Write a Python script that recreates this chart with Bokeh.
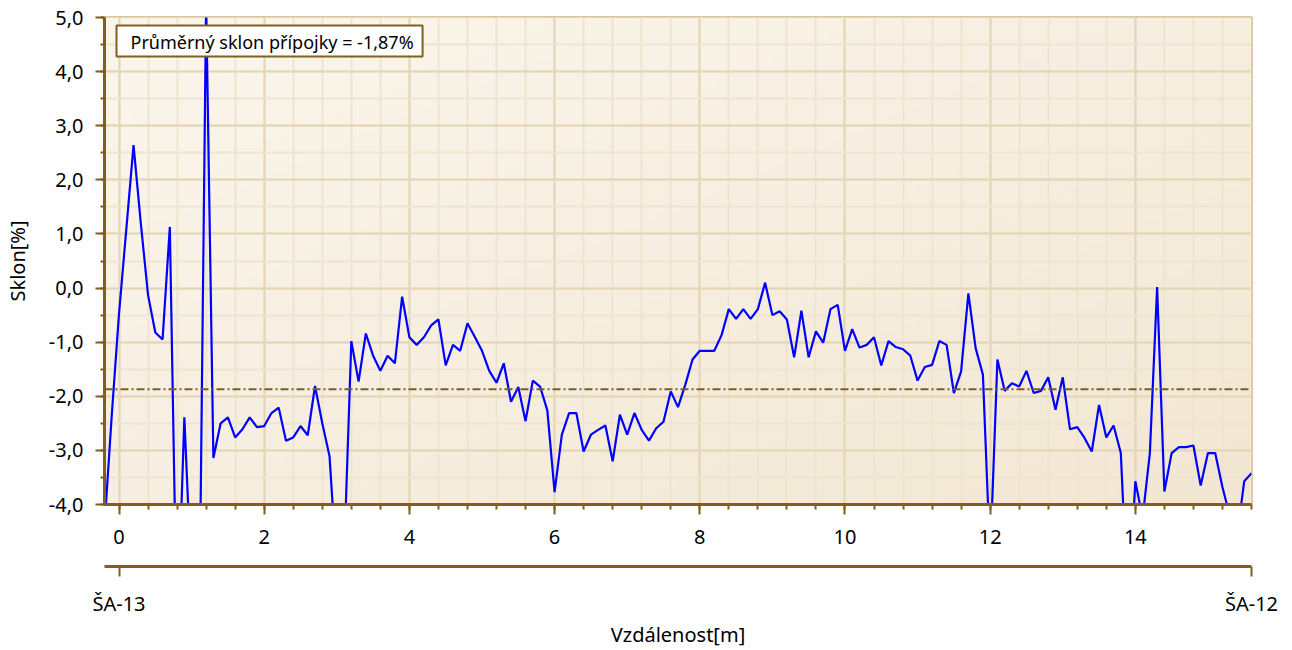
import numpy as np
from bokeh.plotting import figure
from bokeh.models import (Range1d, LinearAxis, SingleIntervalTicker, FixedTicker,
                          Span, Label)
from bokeh.embed import file_html
from bokeh.resources import INLINE

# ---------------- data ----------------
distance_m = [
    -0.2, -0.1,
    0.0, 0.1, 0.2, 0.3, 0.4, 0.5, 0.6, 0.7, 0.8, 0.9,
    1.0, 1.1, 1.2, 1.3, 1.4, 1.5, 1.6, 1.7, 1.8, 1.9,
    2.0, 2.1, 2.2, 2.3, 2.4, 2.5, 2.6, 2.7, 2.8, 2.9,
    3.0, 3.1, 3.2, 3.3, 3.4, 3.5, 3.6, 3.7, 3.8, 3.9,
    4.0, 4.1, 4.2, 4.3, 4.4, 4.5, 4.6, 4.7, 4.8, 4.9,
    5.0, 5.1, 5.2, 5.3, 5.4, 5.5, 5.6, 5.7, 5.8, 5.9,
    6.0, 6.1, 6.2, 6.3, 6.4, 6.5, 6.6, 6.7, 6.8, 6.9,
    7.0, 7.1, 7.2, 7.3, 7.4, 7.5, 7.6, 7.7, 7.8, 7.9,
    8.0, 8.1, 8.2, 8.3, 8.4, 8.5, 8.6, 8.7, 8.8, 8.9,
    9.0, 9.1, 9.2, 9.3, 9.4, 9.5, 9.6, 9.7, 9.8, 9.9,
    10.0, 10.1, 10.2, 10.3, 10.4, 10.5, 10.6, 10.7, 10.8, 10.9,
    11.0, 11.1, 11.2, 11.3, 11.4, 11.5, 11.6, 11.7, 11.8, 11.9,
    12.0, 12.1, 12.2, 12.3, 12.4, 12.5, 12.6, 12.7, 12.8, 12.9,
    13.0, 13.1, 13.2, 13.3, 13.4, 13.5, 13.6, 13.7, 13.8, 13.9,
    14.0, 14.1, 14.2, 14.3, 14.4, 14.5, 14.6, 14.7, 14.8, 14.9,
    15.0, 15.1, 15.2, 15.3, 15.4, 15.5, 15.6,
]

slope_pct = [
    -4.4, -2.35,
    -0.47, 1.08, 2.64, 1.2, -0.13, -0.82, -0.95, 1.13, -6.5, -2.39,
    -5.5, -7.0, 5.3, -3.14, -2.50, -2.39, -2.76, -2.61, -2.39, -2.57,
    -2.55, -2.31, -2.21, -2.82, -2.76, -2.55, -2.72, -1.81, -2.50, -3.11,
    -5.2, -5.0, -0.98, -1.73, -0.84, -1.25, -1.53, -1.25, -1.39, -0.16,
    -0.91, -1.05, -0.91, -0.69, -0.58, -1.43, -1.05, -1.16, -0.65, -0.90,
    -1.16, -1.53, -1.75, -1.39, -2.10, -1.83, -2.46, -1.71, -1.82, -2.26,
    -3.77, -2.71, -2.31, -2.31, -3.02, -2.71, -2.62, -2.54, -3.20, -2.34,
    -2.71, -2.31, -2.62, -2.82, -2.59, -2.47, -1.91, -2.20, -1.79, -1.32,
    -1.16, -1.16, -1.16, -0.87, -0.39, -0.57, -0.39, -0.57, -0.39, 0.10,
    -0.50, -0.43, -0.58, -1.28, -0.42, -1.28, -0.80, -1.01, -0.39, -0.31,
    -1.16, -0.76, -1.10, -1.05, -0.91, -1.43, -0.98, -1.09, -1.13, -1.25,
    -1.71, -1.46, -1.42, -0.98, -1.05, -1.94, -1.54, -0.10, -1.11, -1.60,
    -5.0, -1.32, -1.90, -1.76, -1.82, -1.53, -1.94, -1.90, -1.65, -2.25,
    -1.65, -2.61, -2.57, -2.77, -3.02, -2.16, -2.76, -2.54, -3.05, -6.0,
    -3.57, -4.25, -3.05, 0.02, -3.76, -3.05, -2.94, -2.94, -2.91, -3.65,
    -3.05, -3.05, -3.68, -4.2, -4.6, -3.57, -3.42,
]

average_slope = -1.87
legend_text = "Průměrný sklon přípojky = -1,87%"

y_tick_values = [-4, -3, -2, -1, 0, 1, 2, 3, 4, 5]
y_tick_labels = ["-4,0", "-3,0", "-2,0", "-1,0", "0,0", "1,0", "2,0", "3,0", "4,0", "5,0"]

manhole_positions = [0.0, 15.6]
manhole_labels = ["ŠA-13", "ŠA-12"]

x_start, x_end = -0.2, 15.6
y_start, y_end = -4.0, 5.0

# ---------------- styles ----------------
FONT = "Noto Sans"
AXIS_COLOR = "#7f5f1f"
BORDER_COLOR = "#d9c9a2"

p = figure(width=1292, height=650,
           x_range=Range1d(x_start, x_end), y_range=Range1d(y_start, y_end),
           output_backend="svg", toolbar_location=None,
           min_border_left=104, min_border_right=41, min_border_top=17,
           min_border_bottom=145)

p.background_fill_color = "#f6eee0"
p.border_fill_color = "white"
p.outline_line_color = BORDER_COLOR
p.outline_line_width = 3

# diagonal gradient background of the plot area (top-left light -> bottom-right darker)
ny, nx = 60, 120
gy, gx = np.mgrid[0:ny, 0:nx]
t = 0.5 * gx / (nx - 1) + 0.5 * (1 - gy / (ny - 1))
c0 = np.array([251, 246, 237])
c1 = np.array([242, 231, 211])
img = np.empty((ny, nx), dtype=np.uint32)
view = img.view(dtype=np.uint8).reshape((ny, nx, 4))
for k in range(3):
    view[:, :, k] = (c0[k] + (c1[k] - c0[k]) * t).astype(np.uint8)
view[:, :, 3] = 255
p.image_rgba(image=[img], x=x_start, y=y_start, dw=x_end - x_start,
             dh=y_end - y_start, level="image")

# grids
for g in (p.xgrid, p.ygrid):
    g.grid_line_color = "#e3d5b6"
    g.grid_line_width = 2
    g.minor_grid_line_color = "#eee4cf"
    g.minor_grid_line_width = 2

# x axis (primary)
xa = p.xaxis[0]
xa.ticker = SingleIntervalTicker(interval=2, num_minor_ticks=5)
xa.axis_line_color = AXIS_COLOR
xa.axis_line_width = 3
xa.major_tick_line_color = AXIS_COLOR
xa.major_tick_line_width = 2
xa.minor_tick_line_color = AXIS_COLOR
xa.minor_tick_line_width = 2
xa.major_tick_out = 10
xa.major_tick_in = 0
xa.minor_tick_out = 5
xa.minor_tick_in = 0
xa.major_label_text_font = FONT
xa.major_label_text_font_size = "20px"
xa.major_label_text_color = "black"
xa.major_label_standoff = 15
xa.axis_label = "\u00a0"
xa.axis_label_standoff = 0
xa.axis_label_text_font_size = "15px"

# y axis
ya = p.yaxis[0]
ya.ticker = SingleIntervalTicker(interval=1, num_minor_ticks=2)
ya.major_label_overrides = dict(zip(y_tick_values, y_tick_labels))
ya.axis_line_color = AXIS_COLOR
ya.axis_line_width = 3
ya.major_tick_line_color = AXIS_COLOR
ya.major_tick_line_width = 2
ya.minor_tick_line_color = AXIS_COLOR
ya.minor_tick_line_width = 2
ya.major_tick_out = 9
ya.major_tick_in = 0
ya.minor_tick_out = 4
ya.minor_tick_in = 0
ya.major_label_text_font = FONT
ya.major_label_text_font_size = "20px"
ya.major_label_text_color = "black"
ya.major_label_standoff = 12
ya.axis_label = "Sklon[%]"
ya.axis_label_text_font = FONT
ya.axis_label_text_font_size = "20px"
ya.axis_label_text_font_style = "normal"
ya.axis_label_text_color = "black"
ya.axis_label_standoff = 15

# secondary axis with manholes
xa2 = LinearAxis(ticker=FixedTicker(ticks=manhole_positions),
                 major_label_overrides=dict(zip(manhole_positions, manhole_labels)))
xa2.axis_line_color = AXIS_COLOR
xa2.axis_line_width = 3
xa2.major_tick_line_color = AXIS_COLOR
xa2.major_tick_line_width = 2
xa2.minor_tick_line_color = None
xa2.major_tick_out = 10
xa2.major_tick_in = 0
xa2.major_label_text_font = FONT
xa2.major_label_text_font_size = "20px"
xa2.major_label_text_color = "black"
xa2.major_label_standoff = 13
xa2.axis_label = "Vzdálenost[m]"
xa2.axis_label_text_font = FONT
xa2.axis_label_text_font_size = "20px"
xa2.axis_label_text_font_style = "normal"
xa2.axis_label_text_color = "black"
xa2.axis_label_standoff = 1
p.add_layout(xa2, "below")

# average slope line
p.add_layout(Span(location=average_slope, dimension="width",
                  line_color="#7a5f22", line_width=1.8, line_dash="8 3 2 3"))

# slope profile
p.line(distance_m, slope_pct, line_color="#0000ff", line_width=2.2)

# legend-like box
p.add_layout(Label(x=x_start, y=y_end, x_offset=12, y_offset=-8,
                   text=legend_text, text_align="left", text_baseline="top",
                   text_font=FONT, text_font_size="18px", text_color="black",
                   background_fill_color="white", border_line_color="#806020",
                   border_line_width=2,
                   padding=dict(left=14, right=9, top=4, bottom=3)))

open("out.html", "w").write(file_html(p, INLINE))
